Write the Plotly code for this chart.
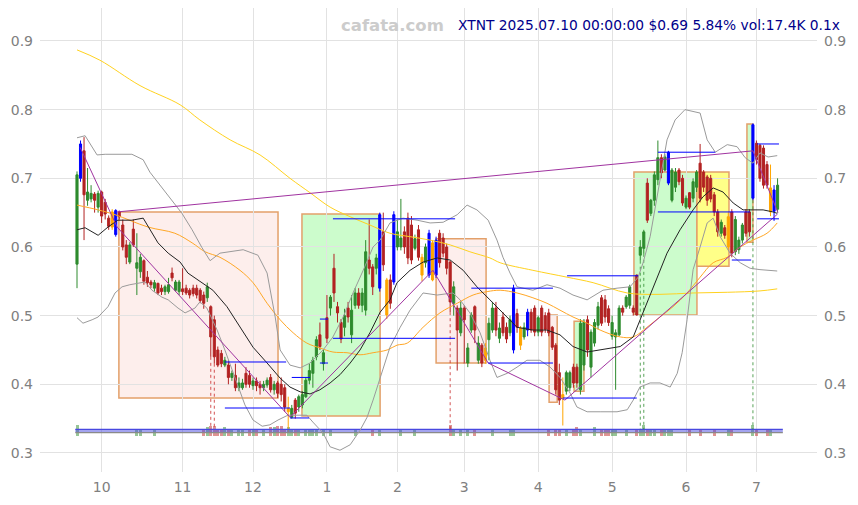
import plotly.graph_objects as go

# ---------------- data ----------------
month_ticks = [7, 30, 50, 71, 91, 110, 131, 152, 173, 193]
month_labels = ["10", "11", "12", "1", "2", "3", "4", "5", "6", "7"]
price_ticks = [0.3, 0.4, 0.5, 0.6, 0.7, 0.8, 0.9]

opens = [.575,.70,.74,.668,.67,.677,.658,.68,.665,.642,.629,.653,.651,.632,.603,.578,.626,.569,.564,.58,
         .556,.549,.54,.547,.54,.535,.535,.562,.537,.535,.539,.54,.537,.54,.54,.537,.53,.526,.513,.494,
         .45,.445,.428,.428,.41,.413,.395,.395,.416,.413,.398,.405,.40,.395,.399,.41,.392,.402,.40,.395,
         .36,.352,.377,.367,.37,.382,.406,.416,.44,.472,.43,.497,.511,.569,.513,.49,.483,.511,.472,.515,
         .533,.515,.508,.581,.571,.569,.54,.622,.552,.552,.549,.60,.60,.622,.642,.632,.598,.625,.585,.577,
         .559,.606,.559,.62,.613,.60,.578,.518,.511,.475,.511,.431,.479,.513,.435,.457,.453,.465,.479,.511,
         .467,.498,.483,.475,.45,.503,.482,.469,.479,.505,.511,.476,.511,.50,.504,.483,.457,.417,.38,.39,
         .395,.425,.425,.392,.428,.494,.425,.46,.486,.526,.523,.51,.47,.469,.472,.511,.513,.515,.511,.559,
         .588,.598,.693,.649,.668,.698,.73,.712,.693,.668,.687,.712,.70,.658,.679,.671,.687,.722,.709,.702,
         .70,.676,.651,.62,.628,.60,.651,.593,.596,.61,.651,.651,.671,.751,.748,.744,.72,.651,.683,.655]
highs = [.71,.755,.76,.715,.69,.68,.682,.682,.67,.646,.655,.655,.653,.64,.61,.607,.64,.62,.59,.582,
         .565,.552,.552,.548,.545,.545,.555,.57,.552,.552,.569,.545,.54,.545,.545,.54,.535,.548,.515,.50,
         .455,.45,.44,.435,.42,.43,.41,.408,.425,.42,.41,.41,.405,.405,.41,.415,.405,.405,.41,.40,
         .382,.37,.38,.385,.39,.41,.43,.44,.47,.49,.45,.53,.53,.59,.52,.495,.51,.52,.53,.54,
         .54,.54,.61,.64,.575,.59,.65,.65,.555,.56,.652,.64,.67,.63,.65,.645,.618,.632,.59,.605,
         .625,.61,.615,.625,.62,.605,.58,.55,.515,.52,.515,.46,.505,.515,.47,.46,.46,.497,.52,.52,
         .49,.505,.49,.50,.545,.51,.485,.49,.51,.51,.515,.50,.515,.505,.51,.485,.46,.43,.41,.42,
         .42,.43,.43,.495,.495,.50,.48,.495,.52,.53,.53,.515,.50,.48,.515,.515,.53,.545,.515,.56,
         .61,.625,.70,.67,.71,.755,.735,.735,.74,.715,.715,.715,.705,.675,.68,.70,.712,.75,.712,.705,
         .705,.68,.655,.64,.632,.65,.655,.645,.615,.635,.655,.655,.78,.755,.75,.748,.725,.72,.69,.70]
lows = [.54,.695,.61,.66,.665,.65,.65,.635,.64,.625,.625,.615,.64,.595,.575,.575,.60,.53,.555,.545,
        .542,.54,.535,.53,.53,.53,.532,.55,.535,.53,.53,.53,.525,.528,.525,.518,.51,.52,.44,.43,
        .425,.425,.425,.40,.405,.39,.39,.392,.395,.395,.392,.39,.385,.39,.395,.388,.385,.38,.375,.36,
        .33,.35,.35,.36,.365,.38,.40,.395,.435,.45,.42,.46,.50,.52,.49,.46,.47,.49,.46,.51,
        .51,.505,.50,.56,.53,.56,.535,.565,.495,.51,.545,.595,.595,.59,.575,.575,.595,.58,.55,.57,
        .555,.55,.555,.57,.585,.56,.505,.50,.42,.47,.43,.425,.475,.46,.43,.425,.43,.435,.475,.47,
        .46,.47,.46,.47,.445,.475,.45,.465,.47,.475,.47,.47,.47,.475,.47,.45,.385,.37,.34,.385,
        .39,.395,.395,.385,.42,.44,.41,.455,.48,.485,.49,.485,.465,.392,.47,.50,.51,.51,.50,.50,
        .58,.59,.635,.645,.66,.69,.70,.71,.69,.665,.68,.69,.66,.655,.655,.665,.68,.665,.68,.66,
        .665,.645,.615,.615,.612,.595,.585,.588,.59,.605,.615,.615,.668,.72,.695,.685,.685,.645,.638,.65]
closes = [.705,.75,.676,.68,.678,.668,.678,.645,.648,.63,.651,.618,.644,.60,.585,.603,.603,.577,.585,.55,
          .548,.545,.548,.533,.535,.542,.545,.555,.549,.549,.535,.533,.53,.532,.53,.522,.518,.542,.469,.44,
          .428,.43,.435,.41,.416,.395,.402,.402,.40,.40,.405,.398,.395,.40,.406,.392,.40,.387,.385,.367,
          .365,.365,.358,.382,.385,.406,.42,.435,.465,.455,.446,.467,.527,.533,.504,.466,.50,.498,.508,.533,
          .515,.533,.593,.569,.542,.584,.647,.574,.501,.518,.647,.622,.613,.60,.584,.581,.612,.585,.559,.60,
          .62,.552,.61,.577,.591,.569,.52,.542,.479,.511,.494,.453,.501,.479,.46,.431,.435,.489,.511,.479,
          .482,.475,.466,.494,.54,.483,.457,.483,.505,.479,.476,.497,.476,.48,.475,.454,.392,.377,.385,.417,
          .417,.402,.402,.489,.49,.45,.476,.49,.513,.489,.498,.49,.49,.475,.511,.505,.527,.542,.505,.501,
          .60,.622,.639,.668,.705,.73,.708,.731,.738,.712,.709,.695,.664,.671,.658,.695,.709,.671,.687,.668,
          .67,.651,.622,.636,.617,.644,.591,.64,.61,.632,.62,.622,.778,.727,.70,.69,.69,.686,.652,.69]

blue_idx = [1, 11, 86, 90, 100, 102, 124, 128, 168, 192, 198]
orange_idx = [10, 60, 88, 98, 101, 116, 126, 138, 185, 197]

# small volume marks along the bottom strip
vol_idx = [0,17,18,22,36,37,38,39,40,41,42,43,44,46,47,49,50,51,53,55,56,57,58,59,60,61,62,63,65,66,67,68,
           70,72,79,84,86,92,96,106,107,109,111,113,118,123,124,134,136,137,139,141,142,143,147,149,150,151,
           152,153,156,159,160,161,162,163,164,166,167,168,169,174,177,181,185,186,192,193,196,197]
vol_h = [.017,.011,.011,.011,.011,.013,.015,.015,.011,.011,.013,.011,.011,.011,.011,.011,.011,
         .011,.011,.013,.013,.015,.015,.011,.013,.011,.011,.011,.011,.011,.011,.011,.011,.011,.011,
         .011,.011,.011,.011,.017,.011,.011,.011,.011,.011,.011,.011,.011,.011,.011,.011,.011,
         .013,.011,.013,.011,.011,.011,.011,.011,.011,.011,.011,.017,.011,.011,.011,.011,.011,
         .011,.011,.011,.011,.011,.011,.011,.017,.011,.011,.011]
spike_idx = [38, 39, 106, 160, 161, 192]

# indicator lines (trading-day index, price)
upper_x = [0,2.3,5.7,8,15.6,18.8,20.7,24.1,27,29.8,32.7,35.5,37.8,40.6,47.2,51.4,54,56.3,57.7,60.5,63.4,66.2,
           69.9,72.7,75.6,78.4,81.3,84.1,86.1,88.9,92.6,96.6,100.3,104,108,110.8,113.6,116.8,119.3,121,123,125,
           129.5,133.5,137.2,140.9,144.9,149.4,153.4,157.1,159.4,160.8,162.8,164.8,166.2,167.6,169.9,172.7,177,
           179,181.3,184.7,187.5,189.8,192,194,196.3,198.9]
upper_v = [.759,.762,.734,.735,.735,.727,.709,.687,.668,.649,.625,.599,.58,.591,.596,.588,.562,.498,.45,.428,
           .424,.431,.45,.469,.498,.533,.566,.6,.61,.635,.642,.639,.635,.636,.647,.661,.654,.639,.61,.585,.562,
           .542,.537,.545,.54,.53,.523,.537,.54,.542,.556,.577,.615,.673,.716,.756,.785,.80,.795,.756,.738,.749,
           .746,.73,.722,.737,.731,.733]
lower_x = [0,1.7,4.3,6,8.8,10.8,12.8,15,19.3,21.3,24.1,25.9,28.7,30.7,33.5,34.9,36.9,39.8,42,45.5,47.7,50,52.6,
           54.8,57.1,59.9,63.4,65.3,67,69.9,71.9,74.7,77.6,80.4,82.4,84.1,88.9,91.8,94.6,98.3,102.3,106.8,108.8,
           111.6,114.5,117.3,119.3,122.2,125,127.8,131.5,134.4,137.2,140.1,142,144.9,148.6,153.4,156.3,158,
           159.9,162.8,165.6,168.5,170.5,171.9,173.3,175,177,179,180.7,182.7,185.5,188.4,191.2,194,198.9]
lower_v = [.497,.489,.494,.498,.513,.533,.542,.545,.549,.537,.527,.523,.511,.504,.511,.52,.511,.479,.45,.40,.37,
           .348,.339,.341,.348,.355,.355,.355,.345,.329,.309,.304,.312,.333,.352,.377,.454,.483,.508,.533,.53,
           .533,.523,.504,.475,.435,.41,.416,.425,.435,.435,.425,.41,.387,.367,.36,.36,.36,.363,.377,.396,.402,
           .402,.396,.416,.446,.494,.567,.60,.635,.642,.615,.591,.577,.569,.567,.565]
mid_x = [0,2.3,6,8.8,11.6,15.6,18.8,20.7,23,25.9,29.3,31.5,34.4,36.4,38.6,42.6,46.3,50,54,57.7,60.5,63.4,66.2,
         69,71.9,74.7,77.6,80.4,83.2,86.1,88.9,90.9,94.6,98.3,102.3,106,109.7,113.6,117.3,120.2,125,129.5,133.5,
         137.2,140.9,144.9,148.6,154.3,158,161.9,164.8,167.6,171.3,175,177.8,180.7,183.5,186.4,189.2,194.9,
         197.7,198.9]
mid_v = [.625,.628,.617,.629,.639,.639,.642,.625,.606,.591,.578,.562,.552,.545,.537,.513,.483,.454,.431,.409,
         .396,.389,.386,.392,.402,.414,.431,.45,.475,.505,.523,.548,.566,.578,.584,.581,.566,.542,.523,.508,
         .483,.479,.479,.472,.455,.447,.45,.455,.469,.518,.556,.591,.625,.654,.673,.686,.68,.664,.654,.654,
         .651,.649]
ma_mid_x = [0,6,10.8,20.2,27.8,32.7,36.4,40.6,46.3,50,54,57.7,61.4,65.3,69,72.7,76.7,80.4,84.1,88.1,90.9,93.8,
            98.3,103.1,108,112.5,116.5,120.2,125,129.5,133.5,137.2,140.9,144.9,148.6,154.3,158,161.9,165.6,
            169.3,173.3,177,180.7,184.7,188.4,192,196,198.9]
ma_mid_v = [.661,.654,.647,.629,.62,.606,.593,.585,.566,.548,.518,.494,.475,.46,.453,.447,.446,.443,.446,.45,
            .457,.46,.483,.504,.518,.53,.535,.537,.533,.526,.518,.508,.498,.489,.479,.469,.469,.483,.498,.513,
            .533,.556,.577,.585,.60,.61,.62,.635]
ma_long_x = [0,6.5,17.9,29.3,34.9,43.5,52,60.5,66.2,71.9,77.6,83.2,88.9,94.6,100.3,106,111.6,117.3,120.2,
             129.5,139.2,146.6,156.3,165.6,175,184.7,194,198.9]
ma_long_v = [.887,.872,.835,.807,.785,.756,.734,.70,.679,.658,.644,.632,.62,.615,.61,.603,.593,.584,.577,.566,
             .556,.548,.533,.531,.533,.534,.536,.539]

zigzag_x = [0.9, 11.4, 60.5, 101.1, 116.8, 138.6, 199]
zigzag_v = [0.745, 0.629, 0.352, 0.566, 0.431, 0.377, 0.648]
resist_x = [11.4, 192, 199.1]
resist_v = [0.651, 0.74, 0.65]

level_x0 = [72.7, 72.7, 42, 42, 61, 69, 69, 60.5, 112, 116.8, 139.2, 138, 165, 165, 186, 193.2, 193.2]
level_x1 = [107.4, 107.4, 59.4, 60.5, 66.2, 71.3, 71.3, 65.9, 135.2, 135.2, 159.4, 159, 181.3, 191.2, 191.5, 199.4, 199.4]
level_v = [.641, .467, .4325, .3655, .41, .495, .431, .351, .54, .431, .558, .38, .738, .651, .581, .75, .641]

zone_x0 = [11.9, 63.9, 102, 134.1, 141.2, 158.2, 176.1, 190.3]
zone_x1 = [57.1, 86.1, 116.2, 136.4, 144, 176.1, 185.2, 192]
zone_lo = [.38, .354, .431, .374, .39, .501, .572, .607]
zone_hi = [.651, .648, .612, .501, .492, .709, .709, .779]
zone_kind = ["down", "up", "down", "down", "up", "up", "hold", "up"]

base_lines = [0.3345, 0.332, 0.3296]
vol_base = 0.3242

# ---------------- figure ----------------
FONT = "DejaVu Sans"
GREEN = "#2e8b2e"
RED = "#b22222"
n = len(closes)
idx = list(range(n))

fig = go.Figure()

# zones
zone_fill = {"down": "#fdeeec", "up": "#ccfccc", "hold": "#ffff88"}
for x0, x1, lo, hi, k in zip(zone_x0, zone_x1, zone_lo, zone_hi, zone_kind):
    fig.add_shape(type="rect", x0=x0, x1=x1, y0=lo, y1=hi, layer="below",
                  fillcolor=zone_fill[k], line=dict(color="#e3a06a", width=1.5))

# volume marks
vx, vy, vc = [], [], []
for i, h in zip(vol_idx, vol_h):
    vx.append(i)
    vy.append(h)
    vc.append("rgba(46,139,46,0.5)" if closes[i] >= opens[i] else "rgba(190,40,40,0.5)")

for yv, col in zip(base_lines, ["#4848e0", "#4848e0", "#8a8a8a"]):
    fig.add_trace(go.Scatter(x=[-0.5, 200.5], y=[yv, yv], mode="lines",
                             line=dict(color=col, width=1.2), hoverinfo="skip", showlegend=False))

fig.add_trace(go.Bar(x=vx, y=vy, base=vol_base, marker=dict(color=vc, line=dict(width=0)),
                     width=0.85, hoverinfo="skip", showlegend=False))

# spike dotted lines
for i in spike_idx:
    col = "rgba(46,139,46,0.8)" if closes[i] >= opens[i] else "rgba(200,40,40,0.8)"
    fig.add_trace(go.Scatter(x=[i, i], y=[lows[i], base_lines[0]], mode="lines",
                             line=dict(color=col, width=1, dash="dot"), hoverinfo="skip", showlegend=False))

# indicator lines
fig.add_trace(go.Scatter(x=ma_long_x, y=ma_long_v, mode="lines", line=dict(color="#ffd21f", width=1, shape="spline"),
                         hoverinfo="skip", showlegend=False))
fig.add_trace(go.Scatter(x=ma_mid_x, y=ma_mid_v, mode="lines", line=dict(color="#ffa726", width=1, shape="spline"),
                         hoverinfo="skip", showlegend=False))
fig.add_trace(go.Scatter(x=upper_x, y=upper_v, mode="lines", line=dict(color="#9a9a9a", width=1),
                         hoverinfo="skip", showlegend=False))
fig.add_trace(go.Scatter(x=lower_x, y=lower_v, mode="lines", line=dict(color="#9a9a9a", width=1),
                         hoverinfo="skip", showlegend=False))
fig.add_trace(go.Scatter(x=mid_x, y=mid_v, mode="lines", line=dict(color="#222222", width=1),
                         hoverinfo="skip", showlegend=False))

# candles
def subset(sel):
    return dict(x=[i for i in idx if sel(i)], open=[opens[i] for i in idx if sel(i)],
                high=[highs[i] for i in idx if sel(i)], low=[lows[i] for i in idx if sel(i)],
                close=[closes[i] for i in idx if sel(i)])

special = set(blue_idx) | set(orange_idx)
fig.add_trace(go.Candlestick(**subset(lambda i: i not in special),
                             increasing=dict(line=dict(color=GREEN, width=1), fillcolor=GREEN),
                             decreasing=dict(line=dict(color=RED, width=1), fillcolor=RED),
                             hoverinfo="skip", showlegend=False))
fig.add_trace(go.Candlestick(**subset(lambda i: i in blue_idx),
                             increasing=dict(line=dict(color="#0000ff", width=1), fillcolor="#0000ff"),
                             decreasing=dict(line=dict(color="#0000ff", width=1), fillcolor="#0000ff"),
                             hoverinfo="skip", showlegend=False))
fig.add_trace(go.Candlestick(**subset(lambda i: i in orange_idx),
                             increasing=dict(line=dict(color="#ffa500", width=1), fillcolor="#ffa500"),
                             decreasing=dict(line=dict(color="#ffa500", width=1), fillcolor="#ffa500"),
                             hoverinfo="skip", showlegend=False))

# trend lines
fig.add_trace(go.Scatter(x=zigzag_x, y=zigzag_v, mode="lines", line=dict(color="#a033a0", width=1),
                         hoverinfo="skip", showlegend=False))
fig.add_trace(go.Scatter(x=resist_x, y=resist_v, mode="lines", line=dict(color="#a033a0", width=1),
                         hoverinfo="skip", showlegend=False))

# level segments
lx, ly = [], []
for a, b, v in zip(level_x0, level_x1, level_v):
    lx += [a, b, None]
    ly += [v, v, None]
fig.add_trace(go.Scatter(x=lx, y=ly, mode="lines", line=dict(color="#0000ff", width=1),
                         hoverinfo="skip", showlegend=False))

# right axis companion
fig.add_trace(go.Scatter(x=[0], y=[0.5], yaxis="y2", mode="markers", marker=dict(opacity=0),
                         hoverinfo="skip", showlegend=False))

yr = [0.2723, 0.948]
fig.update_layout(
    width=850, height=497,
    margin=dict(l=32, r=41, t=0, b=33),
    paper_bgcolor="white", plot_bgcolor="white",
    font=dict(family=FONT, color="#808080", size=14),
    showlegend=False, bargap=0, boxgap=0.15,
    xaxis=dict(range=[-10.51, 210.2], tickvals=month_ticks, ticktext=month_labels,
               showgrid=True, gridcolor="#e2e2e2", gridwidth=1, zeroline=False, showline=False,
               rangeslider=dict(visible=False), ticks="", ticklabelstandoff=5,
               tickfont=dict(size=14, color="#808080")),
    yaxis=dict(range=yr, tickvals=price_ticks, ticktext=[f"{v:.1f}" for v in price_ticks],
               showgrid=True, gridcolor="#e2e2e2", gridwidth=1, zeroline=False, showline=False,
               ticks="", ticklabelstandoff=6, tickfont=dict(size=14, color="#808080")),
    yaxis2=dict(range=yr, tickvals=price_ticks, ticktext=[f"{v:.1f}" for v in price_ticks],
                overlaying="y", side="right", showgrid=False, zeroline=False, showline=False,
                ticks="", ticklabelstandoff=6, tickfont=dict(size=14, color="#808080")),
)

fig.add_annotation(xref="paper", yref="paper", x=0.454, y=0.963, text="<b>cafata.com</b>",
                   showarrow=False, xanchor="center", yanchor="middle",
                   font=dict(family=FONT, size=16.5, color="#cccccc"))
fig.add_annotation(xref="paper", yref="paper", x=0.536, y=0.963,
                   text="XTNT 2025.07.10 00:00:00 $0.69 5.84% vol:17.4K 0.1x",
                   showarrow=False, xanchor="left", yanchor="middle",
                   font=dict(family=FONT, size=13.8, color="#00008b"))

fig.write_html("out.html")
